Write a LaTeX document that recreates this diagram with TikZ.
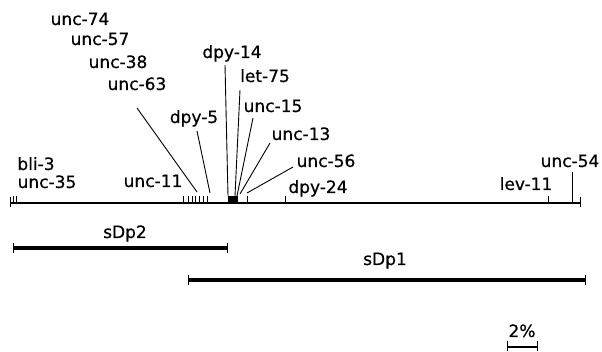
\documentclass[tikz,border=0pt]{standalone}
\usepackage{fontspec}
\setmainfont[FakeBold=0.6]{DejaVu Sans}
\begin{document}
\begin{tikzpicture}[x=1pt,y=-1pt,
  lbl/.style={font=\fontsize{17}{19}\selectfont, inner sep=0pt, anchor=base},
  chrom/.style={line width=1.6pt},
  tick/.style={line width=0.8pt},
  conn/.style={line width=0.9pt},
  dupbar/.style={line width=3.2pt},
  endtick/.style={line width=1pt}]
\useasboundingbox (0,0) rectangle (602,352);
% chromosome
\coordinate (cl) at (10,203);
\coordinate (cr) at (580,203);
\draw[chrom] (cl) -- (cr);
\draw[endtick] (10,197) -- (10,207);
\draw[endtick] (580,197) -- (580,207);
% ticks
\foreach \x in {13,16,183,188,192,195,199,203,207,247,285,548}
  \draw[tick] (\x,196) -- (\x,203);
\fill (228,196) rectangle (238,203);
% labels
\node[lbl] (u74) at (80,25) {unc-74};
\node[lbl] (u57) at (100,45) {unc-57};
\node[lbl] (u38) at (118,68) {unc-38};
\node[lbl] (u63) at (137,90) {unc-63};
\node[lbl] (d5) at (194,123) {dpy-5};
\node[lbl] (d14) at (232,58) {dpy-14};
\node[lbl] (l75) at (265,82) {let-75};
\node[lbl] (u15) at (273,112) {unc-15};
\node[lbl] (u13) at (301,140) {unc-13};
\node[lbl] (u56) at (326,167) {unc-56};
\node[lbl] (d24) at (318,193) {dpy-24};
\node[lbl] (u11) at (153,187) {unc-11};
\node[lbl] (b3) at (36,170) {bli-3};
\node[lbl] (u35) at (47,188) {unc-35};
\node[lbl] (lv11) at (526,190) {lev-11};
\node[lbl] (u54) at (570,167) {unc-54};
% connector coordinates
\coordinate (s63) at (137,108); \coordinate (e63) at (197,192);
\coordinate (s5) at (197,131);  \coordinate (e5) at (210,193);
\coordinate (s14) at (225,65);  \coordinate (e14) at (228,196);
\coordinate (s75) at (240,90);  \coordinate (e75) at (235,196);
\coordinate (s15) at (253,118); \coordinate (e15) at (237,196);
\coordinate (s13) at (270,143); \coordinate (e13) at (240,194);
\coordinate (s56) at (293,167); \coordinate (e56) at (247,193);
\coordinate (s54) at (572,172); \coordinate (e54) at (572,203);
\foreach \a in {63,5,14,75,15,13,56,54}
  \draw[conn] (s\a) -- (e\a);
% duplications
\coordinate (p2l) at (13,248); \coordinate (p2r) at (227,248);
\draw[dupbar] (p2l) -- (p2r);
\draw[endtick] (13,243) -- (13,253);
\draw[endtick] (227,243) -- (227,253);
\node[lbl] (sdp2) at (125,238) {sDp2};
\coordinate (p1l) at (188,280); \coordinate (p1r) at (585,280);
\draw[dupbar] (p1l) -- (p1r);
\draw[endtick] (188,275) -- (188,285);
\draw[endtick] (585,275) -- (585,285);
\node[lbl] (sdp1) at (385,265) {sDp1};
% scale bar
\coordinate (sbl) at (507,347); \coordinate (sbr) at (537,347);
\draw[line width=1.6pt] (sbl) -- (sbr);
\draw[endtick] (507,341) -- (507,351);
\draw[endtick] (537,341) -- (537,351);
\node[lbl] (pct) at (522,337) {2\%};
\end{tikzpicture}
\end{document}
